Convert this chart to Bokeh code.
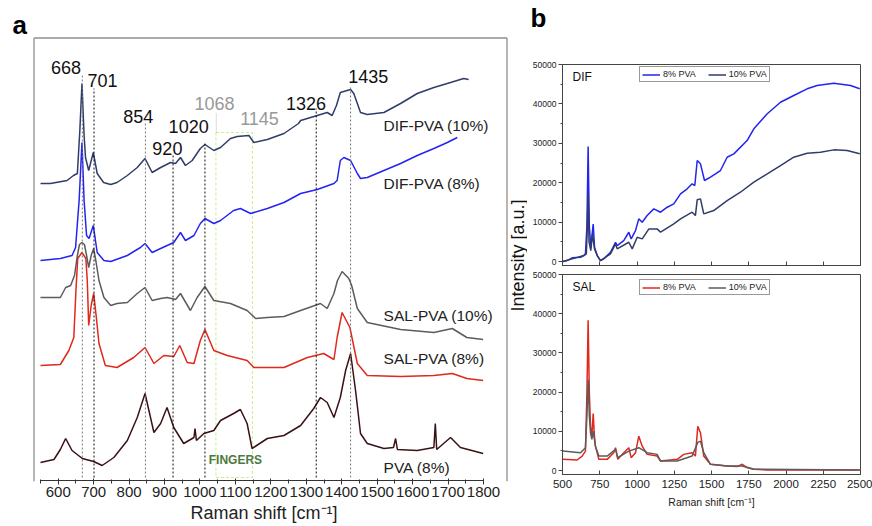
from math import pi
from bokeh.plotting import figure
from bokeh.layouts import row, column
from bokeh.models import Label, FixedTicker, Legend, LegendItem, Range1d
from bokeh.embed import file_html
from bokeh.resources import INLINE

FONT = "Liberation Sans"

# ---------------- panel a : stacked Raman spectra (offset a.u.) ----------------
dif10_x = [550, 578, 625, 643, 654, 661, 667, 673, 677, 686, 699, 710, 728, 748, 766, 795, 823, 845, 865, 889,
           917, 931, 945, 959, 978, 1001, 1014, 1039, 1058, 1086, 1105, 1138, 1152, 1190, 1237, 1278, 1284, 1331,
           1359, 1373, 1385, 1396, 1425, 1434, 1453, 1472, 1519, 1566, 1613, 1660, 1707, 1744, 1758]
dif10_y = [297, 297, 300, 305, 307, 350, 397, 345, 323, 310, 328, 307, 298, 296, 298, 305, 313, 322, 308, 313,
           318, 317, 323, 315, 320, 332, 336, 330, 333, 342, 344, 345, 338, 341, 347, 357, 360, 365,
           368, 365, 375, 388, 391, 387, 368, 366, 368, 377, 387, 393, 398, 402, 401]

dif8_x = [550, 606, 639, 649, 659, 667, 673, 680, 687, 699, 710, 729, 748, 795, 832, 845, 865, 889, 926, 945,
          959, 983, 1001, 1014, 1039, 1058, 1095, 1114, 1143, 1190, 1237, 1284, 1331, 1378, 1387, 1396, 1406,
          1425, 1444, 1453, 1472, 1566, 1613, 1660, 1698, 1726]
dif8_y = [220, 222, 225, 233, 280, 338, 280, 245, 242, 255, 228, 220, 219, 225, 233, 237, 228, 232, 238, 248,
          240, 245, 257, 262, 257, 260, 270, 272, 267, 272, 278, 287, 291, 297, 300, 320, 323,
          320, 307, 302, 303, 317, 325, 332, 338, 343]

sal10_x = [550, 606, 621, 635, 646, 654, 660, 667, 674, 680, 686, 693, 700, 707, 715, 729, 748, 766, 795, 823,
           845, 865, 889, 907, 931, 945, 973, 992, 1014, 1039, 1086, 1133, 1157, 1190, 1237, 1284, 1340, 1359,
           1378, 1388, 1401, 1420, 1428, 1444, 1472, 1566, 1660, 1712, 1753, 1799]
sal10_y = [183, 183, 193, 195, 205, 225, 236, 238, 236, 225, 213, 225, 232, 218, 200, 183, 175, 177, 178, 187,
           193, 180, 182, 183, 181, 187, 170, 183, 194, 180, 177, 170, 162, 163, 164, 170, 177, 172,
           187, 200, 209, 202, 195, 172, 158, 151, 148, 152, 143, 141]

sal8_x = [550, 606, 630, 644, 650, 655, 667, 678, 682, 686, 693, 700, 707, 715, 733, 766, 813, 845,
          870, 898, 926, 943, 964, 983, 1001, 1014, 1039, 1077, 1133, 1152, 1237, 1303, 1349, 1378, 1387, 1401,
          1423, 1444, 1472, 1566, 1660, 1712, 1753, 1799]
sal8_y = [115, 116, 130, 143, 190, 222, 228, 222, 200, 155, 175, 187, 165, 137, 115, 113, 123, 133,
          117, 125, 124, 135, 118, 117, 140, 151, 130, 125, 120, 113, 113, 123, 127, 121, 143, 168,
          153, 117, 105, 104, 105, 107, 102, 100]

pva_x = [550, 588, 606, 621, 639, 668, 700, 724, 757, 795, 823, 845, 870, 889, 907, 926, 954, 983, 986, 990,
         1011, 1039, 1058, 1095, 1114, 1133, 1147, 1190, 1237, 1284, 1321, 1340, 1359, 1378, 1396, 1411, 1425,
         1439, 1453, 1472, 1519, 1546, 1552, 1557, 1613, 1660, 1664, 1668, 1707, 1735, 1799]
pva_y = [18, 21, 31, 42, 30, 22, 19, 15, 23, 40, 63, 87, 48, 57, 73, 53, 37, 43, 52, 40,
         47, 50, 60, 67, 71, 57, 32, 42, 45, 55, 72, 83, 78, 63, 83, 110, 127,
         90, 47, 37, 32, 33, 42, 31, 30, 33, 57, 31, 43, 33, 27]

series_names = ["DIF-PVA (10%)", "DIF-PVA (8%)", "SAL-PVA (10%)", "SAL-PVA (8%)", "PVA (8%)"]

peak_pos = [668, 701, 846, 924, 1014, 1328, 1425]
peak_labels = ["668", "701", "854", "920", "1020", "1068", "1145", "1326", "1435"]
fingers_lo, fingers_hi = 1045, 1148

# ---------------- panel b : raw spectra ----------------
dif8b_x = [502, 531, 565, 621, 643, 654, 664, 672, 680, 690, 706, 715, 733, 755, 777, 822, 856, 867, 911, 945,
           961, 990, 1012, 1035, 1068, 1113, 1158, 1203, 1247, 1292, 1337, 1370, 1388, 1404, 1426, 1453, 1493,
           1560, 1605, 1650, 1739, 1784, 1874, 1963, 2052, 2142, 2209, 2321, 2433, 2495]
dif8b_y = [0, 250, 940, 1090, 1520, 1950, 9000, 29200, 9000, 3600, 9500, 3600, 1520, 250, 680, 2360, 4900, 4060,
           5330, 7440, 5750, 7870, 10830, 9980, 11670, 13370, 12520, 13790, 14640, 17180, 18450, 19720, 19290,
           25630, 24800, 20560, 21400, 23100, 26470, 27330, 30700, 33680, 37490, 40430, 42130, 43830, 44670,
           45250, 44670, 43830]
dif10b_x = [502, 565, 643, 660, 666, 672, 678, 690, 701, 715, 733, 755, 822, 856, 867, 945, 968, 1001, 1035, 1080,
            1135, 1158, 1247, 1292, 1370, 1392, 1404, 1426, 1448, 1515, 1605, 1694, 1784, 1874, 1963, 2052, 2142,
            2231, 2321, 2410, 2495]
dif10b_y = [0, 680, 1520, 1950, 8000, 17180, 5000, 2790, 7030, 3220, 1520, 250, 1950, 4480, 3220, 4900, 3220, 6170,
            5750, 8290, 8290, 7440, 9560, 10830, 12520, 11670, 15660, 15910, 12100, 12940, 15480, 17590, 20130,
            22250, 24360, 26470, 27490, 27740, 28340, 28170, 27330]
sal8b_x = [502, 598, 632, 654, 664, 672, 680, 688, 697, 706, 714, 721, 744, 800, 844, 856, 871, 911, 945, 961,
           990, 1012, 1035, 1068, 1135, 1158, 1270, 1314, 1370, 1392, 1408, 1426, 1448, 1493, 1605, 1672, 1706,
           1739, 1784, 1874, 2495]
sal8b_y = [2860, 2690, 3700, 4970, 20000, 38340, 20000, 11300, 8770, 14520, 9000, 6230, 2860, 2860, 4560, 5830,
           2860, 4560, 5830, 3290, 4560, 8770, 6230, 4130, 3700, 2440, 2860, 4130, 4560, 3700, 11300, 9630, 3700,
           1600, 1180, 1010, 1600, 760, 340, 170, 170]
sal10b_x = [502, 621, 654, 664, 672, 680, 688, 697, 706, 714, 721, 744, 800, 856, 871, 945, 1012, 1068, 1135, 1158,
            1270, 1370, 1408, 1426, 1448, 1493, 1605, 1706, 1784, 2495]
sal10b_y = [4970, 4560, 5830, 14000, 23150, 14000, 9630, 7940, 10050, 8000, 6230, 3700, 3700, 5410, 3290, 4970,
            5830, 4560, 4130, 2440, 2440, 3700, 7200, 7500, 4560, 1600, 1180, 1180, 340, 170]
b_xticks = list(range(500, 2501, 250))
b_yticks = list(range(0, 50001, 10000))
legend_labels = ["8% PVA", "10% PVA"]

NAVY, BLUE, GREY, RED, BROWN = "#2f3d68", "#2424f0", "#5c5c5c", "#e0281c", "#3b1115"
BOX = "#8f8f8f"


def lab(p, x, y, text, size, color="#111111", align="center", baseline="middle", style="normal", angle=0):
    p.add_layout(Label(x=x, y=y, text=text, text_font=FONT, text_font_size=size, text_color=color,
                       text_align=align, text_baseline=baseline, text_font_style=style, angle=angle))


# ================= panel a (frame spans the full width; y = offset intensity) =================
pa = figure(width=527, height=526, x_range=Range1d(437.13, 1924.16), y_range=Range1d(-1, 480),
            output_backend="svg", toolbar_location=None, y_axis_location=None,
            min_border_left=0, min_border_right=0, min_border_top=0, min_border_bottom=45)
pa.outline_line_color = None
pa.grid.visible = False
ax = pa.xaxis[0]
ax.ticker = FixedTicker(ticks=list(range(600, 1801, 100)), minor_ticks=list(range(550, 1800, 100)))
ax.axis_line_color = None
ax.major_tick_line_color = "#333333"
ax.minor_tick_line_color = "#333333"
ax.major_tick_in, ax.major_tick_out = 3, 3
ax.minor_tick_in, ax.minor_tick_out = 2, 2
ax.major_label_text_font = FONT
ax.major_label_text_font_size = "15px"
ax.major_label_text_color = "#222222"
ax.major_label_standoff = 2
ax.axis_label = "Raman shift [cm\u207b\u00b9]"
ax.axis_label_text_font = FONT
ax.axis_label_text_font_size = "18px"
ax.axis_label_text_font_style = "normal"
ax.axis_label_text_color = "#222222"
ax.axis_label_standoff = 3

# panel box (open at the bottom) and axis baseline
pa.segment(x0=[531.66, 531.66, 1866.3], y0=[442.5, -1, -1], x1=[1866.3, 531.66, 1866.3], y1=[442.5, 442.5, 442.5],
           line_color=BOX, line_width=1.3)
pa.segment(x0=[550], y0=[0], x1=[1800], y1=[0], line_color="#333333", line_width=1)

# fingers box and connector
pa.quad(left=[fingers_lo], right=[fingers_hi], bottom=[3], top=[348], fill_color=None,
        line_color="#c9ee8c", line_dash="3 2", line_width=1)
pa.segment(x0=[fingers_lo + 1], y0=[348], x1=[fingers_lo + 1], y1=[367], line_color="#bbbbbb",
           line_dash="1 1", line_width=1)

for xs, ys, c in [(pva_x, pva_y, BROWN), (sal8_x, sal8_y, RED), (sal10_x, sal10_y, GREY),
                  (dif8_x, dif8_y, BLUE), (dif10_x, dif10_y, NAVY)]:
    pa.line(xs, ys, line_color=c, line_width=1.5)

marker_top = [405, 392, 357, 325, 338, 372, 395]
marker_col = ["#777777", "#111111", "#777777", "#111111", "#111111", "#111111", "#777777"]
pa.segment(x0=peak_pos, y0=[3] * len(peak_pos), x1=peak_pos, y1=marker_top, line_color=marker_col,
           line_dash="2 2", line_width=1)

label_xy = [(622, 413), (725, 400), (826, 364), (908, 332), (968, 354), (1041, 377), (1168, 362),
            (1299, 377), (1475, 404)]
for t, (x, y) in zip(peak_labels, label_xy):
    lab(pa, x, y, t, "18px", color="#999999" if t in ("1068", "1145") else "#111111")

for t, y in zip(series_names, [355, 297, 165, 122, 13]):
    lab(pa, 1518, y, t, "15.5px", color="#222222", align="left")

lab(pa, 1100, 21, "FINGERS", "12px", color="#4d7a3f", style="bold")
lab(pa, 471, 456, "a", "26px", color="#000000", align="left", baseline="alphabetic", style="bold")
lab(pa, 1896, 225, "Intensity [a.u.]", "18px", color="#111111", angle=pi / 2)


# ================= panel b =================
def panel_b(height, mbt, mbb, last):
    p = figure(width=345, height=height, x_range=Range1d(500, 2500), y_range=Range1d(-1000, 50000),
               output_backend="svg", toolbar_location=None,
               min_border_left=35, min_border_right=12, min_border_top=mbt, min_border_bottom=mbb)
    p.grid.visible = False
    p.outline_line_color = "#444444"
    xa, ya = p.xaxis[0], p.yaxis[0]
    xa.ticker = FixedTicker(ticks=b_xticks, minor_ticks=[])
    xa.axis_line_color = "#444444"
    xa.major_tick_line_color = "#444444"
    xa.major_tick_in, xa.major_tick_out = 4, 0
    if last:
        xa.major_label_text_font = FONT
        xa.major_label_text_font_size = "11.5px"
        xa.major_label_text_color = "#222222"
        xa.major_label_standoff = 5
        xa.axis_label = "Raman shift [cm\u207b\u00b9]"
        xa.axis_label_text_font = FONT
        xa.axis_label_text_font_size = "10.5px"
        xa.axis_label_text_font_style = "normal"
        xa.axis_label_text_color = "#222222"
        xa.axis_label_standoff = 5
    else:
        xa.major_label_text_font_size = "1px"
        xa.major_label_text_color = None
        xa.major_label_standoff = 0
    ya.ticker = FixedTicker(ticks=b_yticks, minor_ticks=list(range(5000, 50000, 10000)))
    ya.axis_line_color = "#444444"
    ya.major_tick_line_color = "#444444"
    ya.minor_tick_line_color = "#444444"
    ya.major_tick_in, ya.major_tick_out = 0, 4
    ya.minor_tick_in, ya.minor_tick_out = 0, 2
    ya.major_label_text_font = FONT
    ya.major_label_text_font_size = "8.5px"
    ya.major_label_text_color = "#222222"
    ya.major_label_standoff = 2
    return p


pb1 = panel_b(269, 64, 4, False)
pb1.title.text = "b\n"
pb1.title.align = "left"
pb1.title.vertical_align = "top"
pb1.title.offset = -32
pb1.title.standoff = 0
pb1.title.text_font = FONT
pb1.title.text_font_size = "26px"
pb1.title.text_font_style = "bold"
pb1.title.text_color = "#000000"
r1 = pb1.line(dif8b_x, dif8b_y, line_color=BLUE, line_width=1.5)
r2 = pb1.line(dif10b_x, dif10b_y, line_color=NAVY, line_width=1.5)
lab(pb1, 567, 46955, "DIF", "12px", color="#111111", align="left")

pb2 = panel_b(257, 5, 52, True)
r3 = pb2.line(sal8b_x, sal8b_y, line_color=RED, line_width=1.5)
r4 = pb2.line(sal10b_x, sal10b_y, line_color=GREY, line_width=1.5)
lab(pb2, 567, 46940, "SAL", "12px", color="#111111", align="left")

for p, rs, vy in [(pb1, (r1, r2), 183), (pb2, (r3, r4), 179)]:
    leg = Legend(items=[LegendItem(label=legend_labels[0], renderers=[rs[0]]),
                        LegendItem(label=legend_labels[1], renderers=[rs[1]])],
                 orientation="horizontal", location=(77, vy))
    leg.label_text_font = FONT
    leg.label_text_font_size = "9px"
    leg.label_text_color = "#222222"
    leg.label_height = 9
    leg.glyph_height = 9
    leg.glyph_width = 18
    leg.label_standoff = 3
    leg.spacing = 12
    leg.padding = 2
    leg.margin = 0
    leg.border_line_color = "#333333"
    leg.border_line_width = 1
    p.add_layout(leg)

layout = row(pa, column(pb1, pb2))
open("out.html", "w").write(file_html(layout, INLINE))
